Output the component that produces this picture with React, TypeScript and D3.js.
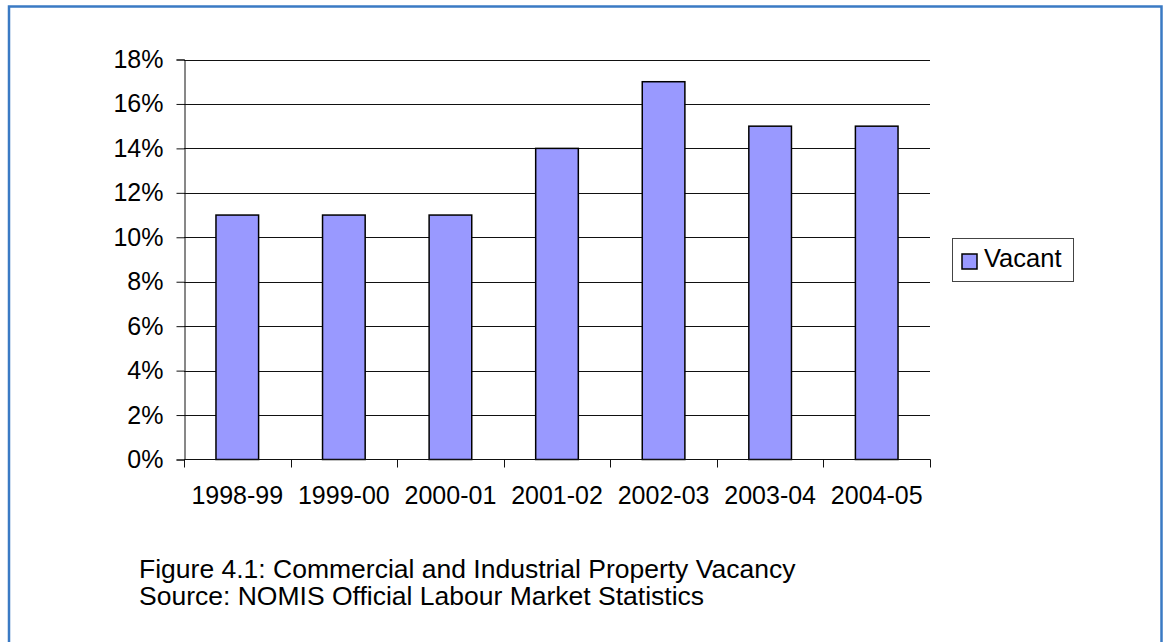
import React, { useEffect, useRef } from 'react';
import * as d3 from 'd3';

const years = ['1998-99', '1999-00', '2000-01', '2001-02', '2002-03', '2003-04', '2004-05'];
const vacant = [11, 11, 11, 14, 17, 15, 15];
const yTicks = [0, 2, 4, 6, 8, 10, 12, 14, 16, 18];
const seriesName = 'Vacant';
const captionLines = [
  'Figure 4.1: Commercial and Industrial Property Vacancy',
  'Source: NOMIS Official Labour Market Statistics'
];

const width = 1163;
const height = 642;
const font = '"Liberation Sans", Arial, sans-serif';

export default function App() {
  const svgRef = useRef<SVGSVGElement>(null);

  useEffect(() => {
    if (!svgRef.current) return;
    const svg = d3.select(svgRef.current);
    svg.selectAll('*').remove();

    // frame round the figure (bottom edge runs off the page)
    svg.append('path')
      .attr('d', `M9,${height + 10} V6.5 H1161.5 V${height + 10}`)
      .attr('fill', 'none')
      .attr('stroke', '#3A7AC4')
      .attr('stroke-width', 2.5);

    const left = 184, right = 930, top = 59.5, bottom = 459.5;

    const x = d3.scaleBand<string>()
      .domain(years)
      .range([left, right])
      .paddingInner(0.6)
      .paddingOuter(0.3);

    const y = d3.scaleLinear().domain([0, 18]).range([bottom, top]);

    const g = svg.append('g');

    // gridlines
    g.selectAll('.grid')
      .data(yTicks.filter(t => t > 0))
      .enter()
      .append('line')
      .attr('x1', left)
      .attr('x2', right)
      .attr('y1', d => Math.round(y(d)) + 0.5)
      .attr('y2', d => Math.round(y(d)) + 0.5)
      .attr('stroke', '#111')
      .attr('stroke-width', 1);

    // bars
    g.selectAll('.bar')
      .data(vacant)
      .enter()
      .append('rect')
      .attr('x', (d, i) => x(years[i])!)
      .attr('y', d => y(d))
      .attr('width', x.bandwidth())
      .attr('height', d => bottom - y(d))
      .attr('fill', '#9999FF')
      .attr('stroke', '#000')
      .attr('stroke-width', 1.5);

    // y axis
    const yAxis = d3.axisLeft(y)
      .tickValues(yTicks)
      .tickSize(8)
      .tickPadding(13)
      .tickFormat(d => `${d}%`);
    const ya = g.append('g')
      .attr('transform', `translate(${left + 0.5},0)`)
      .call(yAxis);
    ya.select('.domain').attr('stroke', '#111');
    ya.selectAll('.tick line').attr('stroke', '#111');
    ya.selectAll('.tick text')
      .attr('font-family', font)
      .attr('font-size', 25)
      .attr('fill', '#000');

    // x axis with ticks between categories
    const xa = g.append('g').attr('transform', `translate(0,${bottom})`);
    xa.append('line')
      .attr('x1', left).attr('x2', right + 0.5)
      .attr('stroke', '#111');
    const step = x.step();
    xa.selectAll('.xt')
      .data(d3.range(years.length + 1))
      .enter()
      .append('line')
      .attr('x1', i => Math.round(left + i * step) + 0.5)
      .attr('x2', i => Math.round(left + i * step) + 0.5)
      .attr('y1', 0)
      .attr('y2', 8)
      .attr('stroke', '#111');
    xa.selectAll('.xl')
      .data(years)
      .enter()
      .append('text')
      .attr('x', d => x(d)! + x.bandwidth() / 2)
      .attr('y', 44.5)
      .attr('text-anchor', 'middle')
      .attr('font-family', font)
      .attr('font-size', 25)
      .text(d => d);

    // legend
    const lg = svg.append('g');
    lg.append('rect')
      .attr('x', 952.5).attr('y', 238.5)
      .attr('width', 121).attr('height', 43)
      .attr('fill', '#fff')
      .attr('stroke', '#444');
    lg.append('rect')
      .attr('x', 962).attr('y', 254)
      .attr('width', 15).attr('height', 15)
      .attr('fill', '#9999FF')
      .attr('stroke', '#000')
      .attr('stroke-width', 1.5);
    lg.append('text')
      .attr('x', 984).attr('y', 267)
      .attr('font-family', font)
      .attr('font-size', 25.5)
      .text(seriesName);

    // caption
    svg.selectAll('.cap')
      .data(captionLines)
      .enter()
      .append('text')
      .attr('x', 139)
      .attr('y', (d, i) => 577.5 + i * 27.5)
      .attr('font-family', font)
      .attr('font-size', 26.5)
      .text(d => d);
  }, []);

  return (
    <div style={{ position: 'fixed', left: 0, top: 0 }}>
      <svg ref={svgRef} width={width} height={height} style={{ display: 'block', background: '#fff' }} />
    </div>
  );
}
